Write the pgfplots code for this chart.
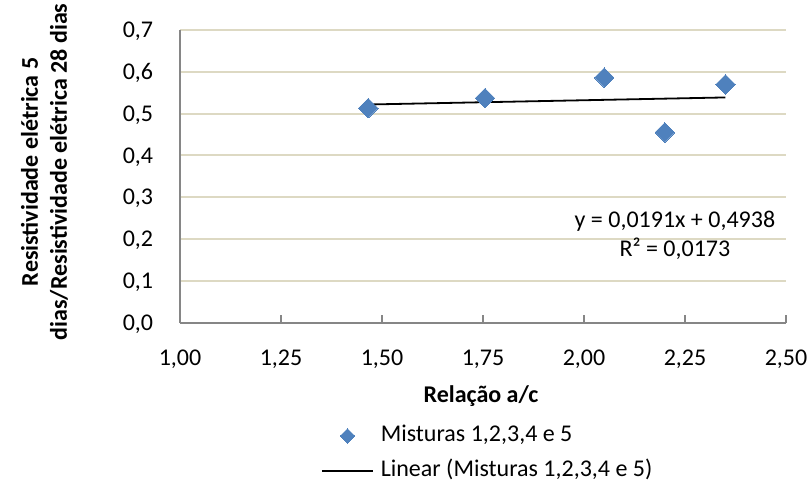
\documentclass[border=0pt]{standalone}
\usepackage{fontspec}
\setmainfont{Carlito}
\usepackage{pgfplots}
\pgfplotsset{compat=1.18}
\definecolor{gridc}{HTML}{DDD9C3}
\definecolor{axc}{HTML}{868686}
\definecolor{mblue}{HTML}{4F81BD}
\newcommand\fs{\fontsize{24}{29}\selectfont}
\pgfplotsset{
 legmark/.style={legend image code/.code={\draw[mark repeat=2,mark phase=2,##1,mark size=5.2pt] plot coordinates {(0pt,0pt) (25.5pt,0pt) (51pt,0pt)};}},
 legline/.style={legend image code/.code={\draw[##1] (0pt,0pt) -- (51pt,0pt);}},
}
\begin{document}
\begin{tikzpicture}[x=1pt,y=1pt]
\path[use as bounding box] (0,0) rectangle (812,484);
\begin{axis}[
 at={(180pt,161.3pt)}, anchor=south west,
 scale only axis, width=606pt, height=292.7pt,
 xmin=1, xmax=2.5, ymin=0, ymax=0.7,
 xtick={1,1.25,1.5,1.75,2,2.25,2.5},
 ytick={0,0.1,0.2,0.3,0.4,0.5,0.6,0.7},
 axis x line*=bottom, axis y line*=left,
 axis line style={axc, line width=2pt, -},
 ymajorgrids, grid style={gridc, line width=2pt},
 tick align=inside, major tick length=8pt,
 xtick style={axc, line width=1.5pt}, ytick style={draw=none},
 /pgf/number format/assume math mode=true,
 /pgf/number format/use comma,
 xticklabel style={font=\fs, inner sep=0pt, anchor=base, yshift=-42.5pt, /pgf/number format/fixed, /pgf/number format/fixed zerofill, /pgf/number format/precision=2},
 yticklabel style={font=\fs, inner sep=0pt, anchor=base east, yshift=-7.7pt, xshift=-26.7pt, /pgf/number format/fixed, /pgf/number format/fixed zerofill, /pgf/number format/precision=1},
 scaled ticks=false,
 xlabel={Relação a/c},
 every axis x label/.style={at={(axis description cs:0.4967,-0.2743)}, anchor=base, font=\fs\bfseries, inner sep=0pt},
 ylabel={Resistividade elétrica 5\\dias/Resistividade elétrica 28 dias},
 every axis y label/.style={at={(axis description cs:-0.2236,0.515)}, anchor=center, rotate=90, align=center, font=\fs\bfseries, inner sep=0pt},
 legend style={draw=none, fill=none, at={(axis description cs:0.2327,-0.3495)}, anchor=north west, inner sep=0pt, outer sep=0pt, row sep=13pt, font=\fs, nodes={inner sep=0pt, text height=17pt, text depth=5pt}, /tikz/every odd column/.append style={column sep=7pt}},
 legend cell align=left,
 clip=false,
]
\addplot[only marks, mark=square*, mark size=6.9pt, mark options={rotate=45, fill=mblue, draw=mblue, line width=0pt}, legmark]
 coordinates {(1.466,0.513) (1.755,0.537) (2.050,0.586) (2.200,0.455) (2.350,0.570)};
\addlegendentry{Misturas 1,2,3,4 e 5}
\addplot[black, line width=1.8pt, mark=none, legline]
 coordinates {(1.466,0.5218) (2.350,0.5387)};
\addlegendentry{Linear (Misturas 1,2,3,4 e 5)}
\node[font=\fs, align=center, inner sep=0pt] at (axis cs:2.225,0.2098) {y = 0,0191x + 0,4938\\R² = 0,0173};
\end{axis}
\end{tikzpicture}
\end{document}
